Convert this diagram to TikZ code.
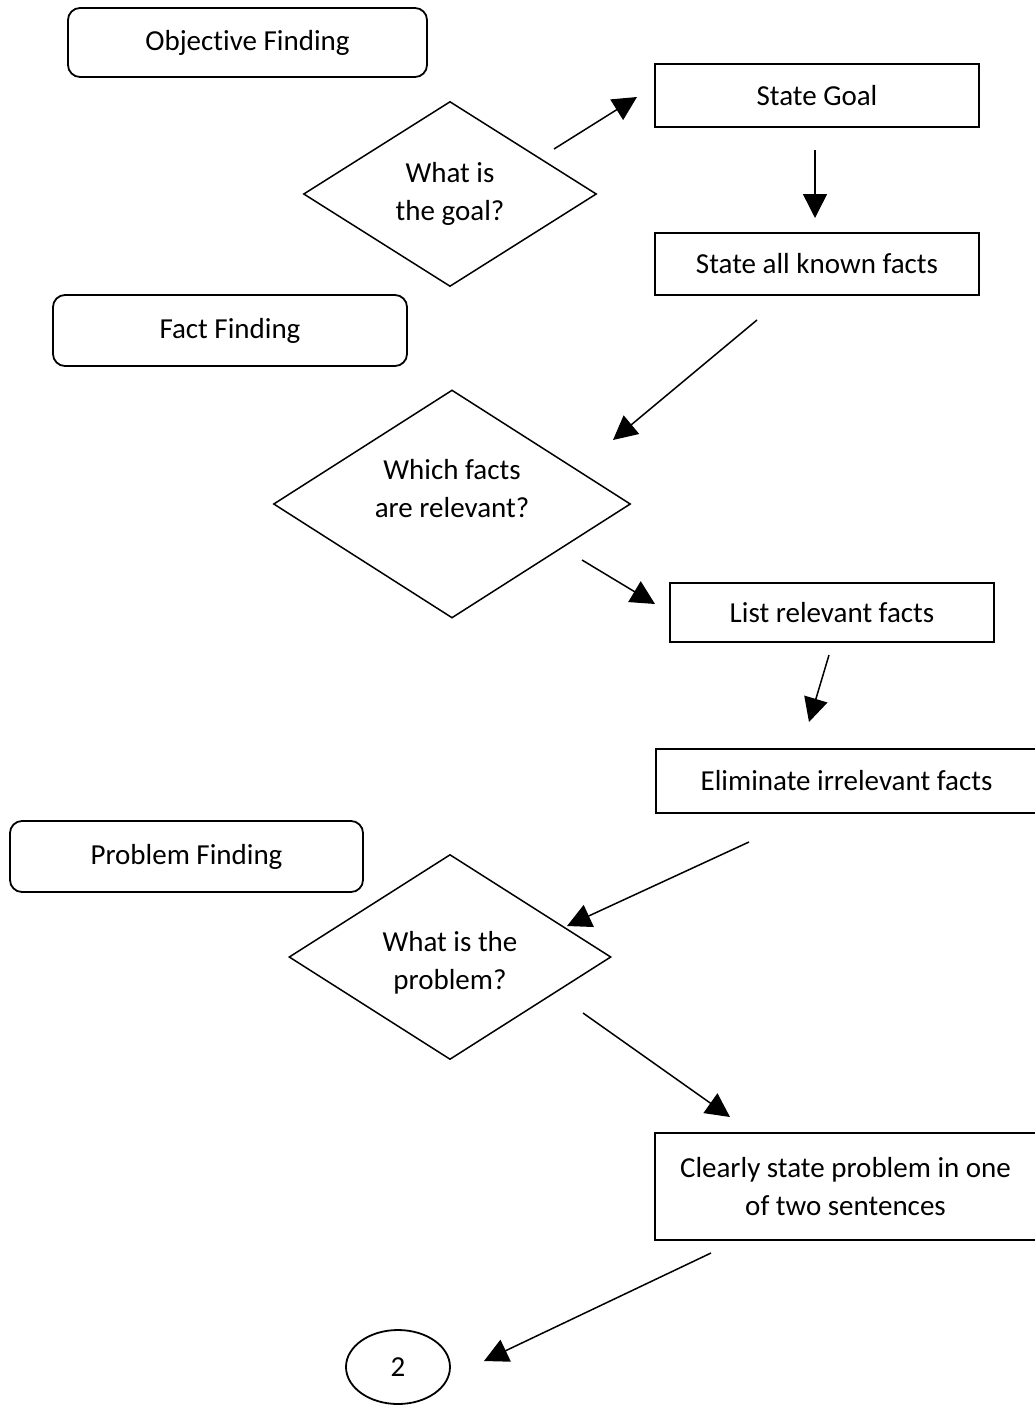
\documentclass[tikz,border=0pt]{standalone}
\usepackage{fontspec}
\setmainfont{Carlito}[Ligatures={NoCommon,NoRare,NoContextual}]
\usetikzlibrary{shapes.geometric,arrows.meta}
\begin{document}
\begin{tikzpicture}[x=1pt,y=-1pt,
  font=\fontsize{29}{38}\selectfont,
  phase/.style={draw, rounded corners=12pt, line width=1.8pt, inner sep=0pt},
  stepbox/.style={draw, line width=1.8pt, inner sep=0pt, align=center},
  decision/.style={draw, diamond, line width=1.5pt, inner sep=0pt, align=center},
  flow/.style={line width=1.5pt, -{Triangle[length=24pt,width=24pt]}}]

% page frame
\useasboundingbox[fill=white] (0,0) rectangle (1034,1405);

% phase labels
\node[phase, minimum width=359pt, minimum height=69pt] (objective) at (247.5,42.5) {Objective Finding};
\node[phase, minimum width=354pt, minimum height=71pt] (factfind) at (230,330.5) {Fact Finding};
\node[phase, minimum width=353pt, minimum height=71pt] (probfind) at (186.5,856.5) {Problem Finding};

% decisions
\node[decision, minimum width=293pt, minimum height=185pt, aspect=1.58] (qgoal) at (450,194) {What is\\the goal?};
\node[decision, minimum width=357pt, minimum height=228pt, aspect=1.57,
      label={[align=center, yshift=15pt]center:Which facts\\are relevant?}] (qrel) at (452,504) {};
\node[decision, minimum width=322pt, minimum height=205pt, aspect=1.57,
      label={[align=center, yshift=-6pt]center:What is the\\problem?}] (qprob) at (450,957) {};

% steps
\node[stepbox, minimum width=324pt, minimum height=63pt] (goal) at (817,95.5) {State Goal};
\node[stepbox, minimum width=324pt, minimum height=62pt] (facts) at (817,264) {State all known facts};
\node[stepbox, minimum width=324pt, minimum height=59pt] (list) at (832,612.5) {List relevant facts};
\node[stepbox, minimum width=381pt, minimum height=64pt] (elim) at (846.5,781) {Eliminate irrelevant facts};
\node[stepbox, minimum width=381pt, minimum height=107pt] (state) at (845.5,1186.5) {Clearly state problem in one\\of two sentences};

% connector
\node[draw, ellipse, line width=1.8pt, minimum width=104pt, minimum height=74pt, inner sep=0pt] (conn) at (398,1367) {2};

% arrow end points
\coordinate (g1) at (554,149);  \coordinate (g2) at (637,97);
\coordinate (s1) at (815,150);  \coordinate (s2) at (815,218);
\coordinate (f1) at (757,320);  \coordinate (f2) at (613,440);
\coordinate (r1) at (582,560);  \coordinate (r2) at (655,604);
\coordinate (l1) at (829,655);  \coordinate (l2) at (809,722);
\coordinate (e1) at (749,842);  \coordinate (e2) at (567,926);
\coordinate (p1) at (583,1013); \coordinate (p2) at (730,1117);
\coordinate (c1) at (711,1253); \coordinate (c2) at (484,1361);

\draw[flow] (g1) -- (g2);
\draw[flow] (s1) -- (s2);
\draw[flow] (f1) -- (f2);
\draw[flow] (r1) -- (r2);
\draw[flow] (l1) -- (l2);
\draw[flow] (e1) -- (e2);
\draw[flow] (p1) -- (p2);
\draw[flow] (c1) -- (c2);
\end{tikzpicture}
\end{document}
